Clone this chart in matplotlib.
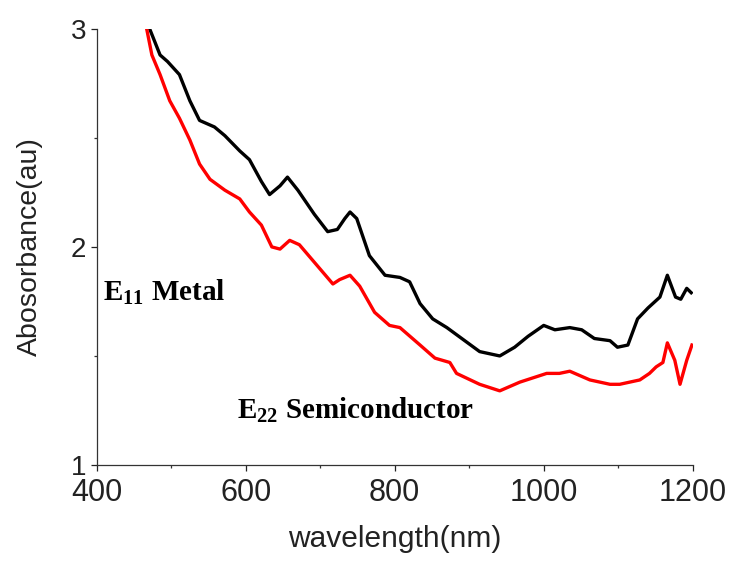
import numpy as np
import matplotlib
matplotlib.use("Agg")
import matplotlib.pyplot as plt
from matplotlib.ticker import MultipleLocator

# metallic (E11) absorbance
wl_metal = [471, 485, 495, 511, 525, 538, 558, 572, 592, 605, 621, 632, 646, 656,
            670, 692, 710, 723, 733, 740, 749, 766, 787, 807, 820, 834, 851, 870,
            894, 914, 941, 961, 979, 1000, 1015, 1035, 1051, 1068, 1089, 1099,
            1113, 1126, 1140, 1156, 1166, 1177, 1184, 1192, 1198]
abs_metal = [3.0, 2.88, 2.85, 2.79, 2.67, 2.58, 2.55, 2.51, 2.44, 2.40, 2.30, 2.24,
             2.28, 2.32, 2.26, 2.15, 2.07, 2.08, 2.13, 2.16, 2.13, 1.96, 1.87, 1.86,
             1.84, 1.74, 1.67, 1.63, 1.57, 1.52, 1.50, 1.54, 1.59, 1.64, 1.62, 1.63,
             1.62, 1.58, 1.57, 1.54, 1.55, 1.67, 1.72, 1.77, 1.87, 1.77, 1.76, 1.81, 1.79]

# semiconducting (E22) absorbance
wl_semi = [467, 474, 485, 498, 511, 525, 538, 552, 572, 592, 605, 621, 635, 646,
           659, 672, 692, 717, 726, 740, 753, 773, 793, 807, 834, 854, 874, 883,
           914, 941, 968, 1004, 1021, 1035, 1062, 1089, 1102, 1129, 1142, 1151,
           1160, 1166, 1176, 1183, 1192, 1199]
abs_semi = [3.0, 2.88, 2.79, 2.67, 2.59, 2.49, 2.38, 2.31, 2.26, 2.22, 2.16, 2.10,
            2.00, 1.99, 2.03, 2.01, 1.93, 1.83, 1.85, 1.87, 1.82, 1.70, 1.64, 1.63,
            1.55, 1.49, 1.47, 1.42, 1.37, 1.34, 1.38, 1.42, 1.42, 1.43, 1.39, 1.37,
            1.37, 1.39, 1.42, 1.45, 1.47, 1.56, 1.48, 1.37, 1.48, 1.55]

plt.rcParams['font.family'] = ['Liberation Sans', 'DejaVu Sans']
plt.rcParams['mathtext.fontset'] = 'custom'
plt.rcParams['mathtext.rm'] = 'Liberation Serif:bold'
plt.rcParams['mathtext.it'] = 'Liberation Serif:bold'
plt.rcParams['mathtext.bf'] = 'Liberation Serif:bold'

fig = plt.figure(figsize=(7.33, 5.65), dpi=100)
ax = fig.add_axes([0.132, 0.177, 0.813, 0.772])

ax.plot(wl_metal, abs_metal, color='black', lw=2.4)
ax.plot(wl_semi, abs_semi, color='red', lw=2.4)

ax.set_xlim(400, 1200)
ax.set_ylim(1, 3)
ax.xaxis.set_major_locator(MultipleLocator(200))
ax.xaxis.set_minor_locator(MultipleLocator(100))
ax.yaxis.set_major_locator(MultipleLocator(1))
ax.yaxis.set_minor_locator(MultipleLocator(0.5))

for s in ['top', 'right']:
    ax.spines[s].set_visible(False)
for s in ['left', 'bottom']:
    ax.spines[s].set_linewidth(0.9)
    ax.spines[s].set_color('#333333')

ax.tick_params(which='major', direction='out', length=4.5, width=0.9,
               colors='#222222', pad=4)
ax.tick_params(which='minor', direction='out', length=2.5, width=0.9, colors='#333333')
ax.tick_params(axis='x', which='major', labelsize=22, pad=5)
ax.tick_params(axis='y', which='major', labelsize=20, pad=3)

ax.set_xlabel('wavelength(nm)', fontsize=21.5, color='#222222', labelpad=12)
ax.set_ylabel('Abosorbance(au)', fontsize=20.5, color='#222222', labelpad=20)

ax.text(408, 1.79, 'E$_{11}$ Metal', fontsize=21, fontweight='bold',
        family='Liberation Serif', va='center', ha='left')
ax.text(588, 1.25, 'E$_{22}$ Semiconductor', fontsize=21, fontweight='bold',
        family='Liberation Serif', va='center', ha='left')

fig.savefig('out.png', dpi=100)
